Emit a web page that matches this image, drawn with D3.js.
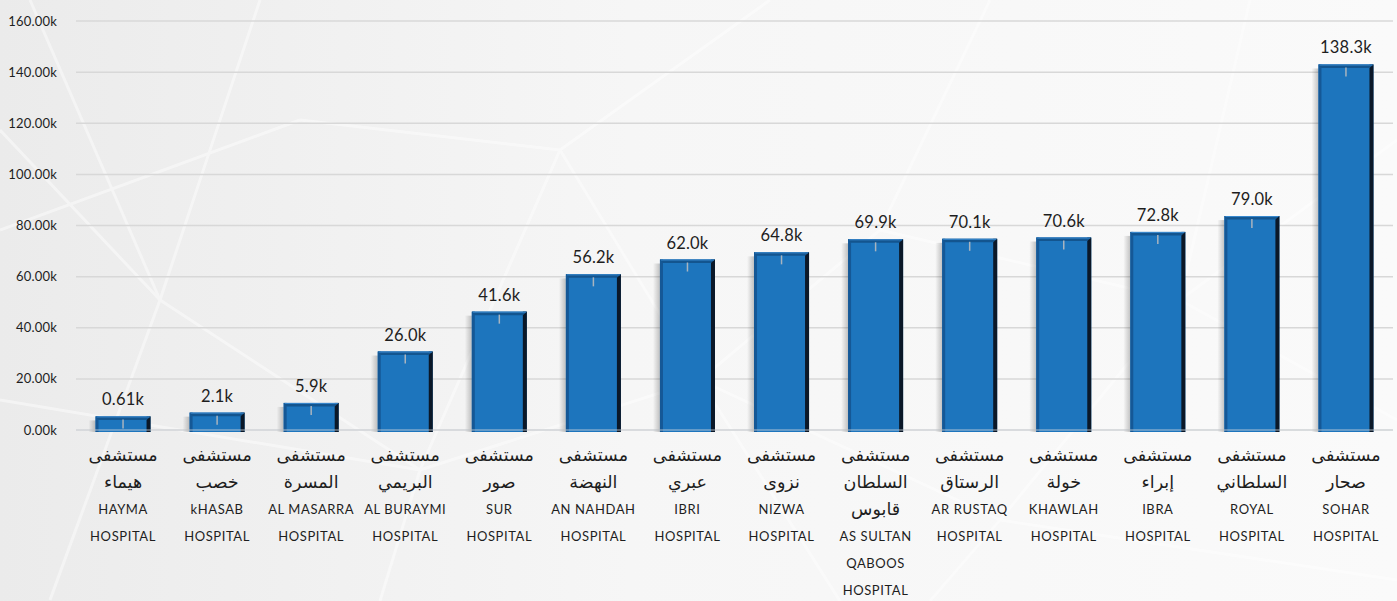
<!DOCTYPE html>
<html>
<head>
<meta charset="utf-8">
<script src="https://cdn.jsdelivr.net/npm/d3@7"></script>
<style>
  html, body { margin: 0; padding: 0; background: #f4f4f4; }
  svg { display: block; }
  text { font-family: Lato, "DejaVu Sans", sans-serif; fill: #1e1e1e; }
</style>
</head>
<body>
<svg id="chart" width="1397" height="601"></svg>
<script>
// ---- data ----
const categories = [
  "HAYMA HOSPITAL", "kHASAB HOSPITAL", "AL MASARRA HOSPITAL", "AL BURAYMI HOSPITAL",
  "SUR HOSPITAL", "AN NAHDAH HOSPITAL", "IBRI HOSPITAL", "NIZWA HOSPITAL",
  "AS SULTAN QABOOS HOSPITAL", "AR RUSTAQ HOSPITAL", "KHAWLAH HOSPITAL",
  "IBRA HOSPITAL", "ROYAL HOSPITAL", "SOHAR HOSPITAL"
];
const labelLines = [
  ["مستشفى", "هيماء", "HAYMA", "HOSPITAL"],
  ["مستشفى", "خصب", "kHASAB", "HOSPITAL"],
  ["مستشفى", "المسرة", "AL MASARRA", "HOSPITAL"],
  ["مستشفى", "البريمي", "AL BURAYMI", "HOSPITAL"],
  ["مستشفى", "صور", "SUR", "HOSPITAL"],
  ["مستشفى", "النهضة", "AN NAHDAH", "HOSPITAL"],
  ["مستشفى", "عبري", "IBRI", "HOSPITAL"],
  ["مستشفى", "نزوى", "NIZWA", "HOSPITAL"],
  ["مستشفى", "السلطان", "قابوس", "AS SULTAN", "QABOOS", "HOSPITAL"],
  ["مستشفى", "الرستاق", "AR RUSTAQ", "HOSPITAL"],
  ["مستشفى", "خولة", "KHAWLAH", "HOSPITAL"],
  ["مستشفى", "إبراء", "IBRA", "HOSPITAL"],
  ["مستشفى", "السلطاني", "ROYAL", "HOSPITAL"],
  ["مستشفى", "صحار", "SOHAR", "HOSPITAL"]
];
const values = [0.61, 2.1, 5.9, 26.0, 41.6, 56.2, 62.0, 64.8, 69.9, 70.1, 70.6, 72.8, 79.0, 138.3]; // thousands
const valueLabels = ["0.61k", "2.1k", "5.9k", "26.0k", "41.6k", "56.2k", "62.0k", "64.8k", "69.9k", "70.1k", "70.6k", "72.8k", "79.0k", "138.3k"];
const yTicks = [0, 20, 40, 60, 80, 100, 120, 140, 160];
const yTickLabels = ["0.00k", "20.00k", "40.00k", "60.00k", "80.00k", "100.00k", "120.00k", "140.00k", "160.00k"];

// ---- layout ----
const W = 1397, H = 601;
const plot = { left: 76, right: 1393, top: 21, bottom: 430 };
const svg = d3.select("#chart");
const defs = svg.append("defs");

// background
const bg = defs.append("linearGradient").attr("id", "bg").attr("x1", 0).attr("x2", 1).attr("y1", 0).attr("y2", 0);
bg.append("stop").attr("offset", 0).attr("stop-color", "#ebebeb");
bg.append("stop").attr("offset", 0.45).attr("stop-color", "#f6f6f6");
bg.append("stop").attr("offset", 1).attr("stop-color", "#fafafa");
svg.append("rect").attr("width", W).attr("height", H).attr("fill", "url(#bg)");

// faint network decoration
const deco = svg.append("g").attr("stroke", "#ffffff").attr("stroke-width", 3).attr("opacity", 0.45).attr("fill", "none");
const decoLines = [
  [[0,130],[160,300]], [[160,300],[50,600]], [[160,300],[420,470]], [[0,400],[420,470]],
  [[30,0],[160,300]], [[160,300],[260,0]], [[420,470],[380,601]], [[420,470],[700,380]],
  [[700,380],[840,601]], [[700,380],[560,150]], [[560,150],[420,470]], [[560,150],[770,0]],
  [[700,380],[1000,520]], [[1000,520],[930,601]], [[1000,520],[1180,300]], [[1180,300],[880,230]],
  [[880,230],[700,380]], [[880,230],[990,0]], [[1180,300],[1397,420]], [[1180,300],[1250,0]],
  [[1000,520],[1397,580]], [[0,230],[300,120]], [[300,120],[560,150]], [[1397,140],[1180,300]]
];
decoLines.forEach(l => deco.append("line").attr("x1", l[0][0]).attr("y1", l[0][1]).attr("x2", l[1][0]).attr("y2", l[1][1]));

// scales
const x = d3.scaleBand().domain(categories).range([plot.left, plot.right]).paddingInner(0.415).paddingOuter(0.2075);
const y = d3.scaleLinear().domain([0, 160]).range([plot.bottom, plot.top]);

// gridlines
svg.append("g").selectAll("line").data(yTicks).join("line")
  .attr("x1", plot.left).attr("x2", plot.right)
  .attr("y1", d => y(d)).attr("y2", d => y(d))
  .attr("stroke", "#d8d8d8").attr("stroke-width", 1.5);

// y axis labels
svg.append("g").selectAll("text").data(yTicks).join("text")
  .attr("x", 57).attr("y", d => y(d)).attr("dy", "0.35em")
  .attr("text-anchor", "end").attr("font-size", 13).attr("letter-spacing", 0.2)
  .text((d, i) => yTickLabels[i]);

// bar shadow
const sh = defs.append("linearGradient").attr("id", "shadow").attr("x1", 0).attr("x2", 1);
sh.append("stop").attr("offset", 0).attr("stop-color", "#000").attr("stop-opacity", 0);
sh.append("stop").attr("offset", 1).attr("stop-color", "#000").attr("stop-opacity", 0.22);

const bevel = 12; // 3D top adds height in px
const bw = x.bandwidth();
const bars = svg.append("g").selectAll("g").data(values).join("g")
  .attr("transform", (d, i) => `translate(${x(categories[i])},0)`);

bars.append("rect")
  .attr("x", -7).attr("width", 7)
  .attr("y", d => y(d) - bevel + 4)
  .attr("height", d => plot.bottom + 2 - (y(d) - bevel + 4))
  .attr("fill", "url(#shadow)");
bars.append("rect")
  .attr("x", 0).attr("width", bw)
  .attr("y", d => y(d) - bevel)
  .attr("height", d => plot.bottom + 2 - (y(d) - bevel))
  .attr("fill", "#1d75bd");
bars.append("rect")
  .attr("x", 0).attr("width", 3)
  .attr("y", d => y(d) - bevel)
  .attr("height", d => plot.bottom + 2 - (y(d) - bevel))
  .attr("fill", "#155896");
bars.append("rect")
  .attr("x", bw - 4).attr("width", 4)
  .attr("y", d => y(d) - bevel)
  .attr("height", d => plot.bottom + 2 - (y(d) - bevel))
  .attr("fill", "#0b1828");
bars.append("path")
  .attr("d", d => {
    const t = y(d) - bevel;
    return `M0,${t} L${bw},${t} L${bw - 4},${t + 3.5} L3,${t + 3.5} Z`;
  })
  .attr("fill", "#13558f");
bars.append("line")
  .attr("x1", 1).attr("x2", bw - 1)
  .attr("y1", d => y(d) - bevel + 0.5).attr("y2", d => y(d) - bevel + 0.5)
  .attr("stroke", "#3a8ad0").attr("stroke-width", 1);
bars.append("line")
  .attr("x1", bw / 2).attr("x2", bw / 2)
  .attr("y1", d => y(d) - bevel + 3).attr("y2", d => y(d))
  .attr("stroke", "#a9b4bf").attr("stroke-width", 1.5);

// zero line over bars
svg.append("line").attr("x1", plot.left).attr("x2", plot.right)
  .attr("y1", y(0)).attr("y2", y(0)).attr("stroke", "#d0d6dc").attr("stroke-width", 1.2).attr("opacity", 0.8);

// value labels
svg.append("g").selectAll("text").data(values).join("text")
  .attr("x", (d, i) => x(categories[i]) + bw / 2)
  .attr("y", d => y(d) - bevel - 11)
  .attr("text-anchor", "middle").attr("font-size", 16.5).attr("letter-spacing", 0.2)
  .text((d, i) => valueLabels[i]);

// category labels
const cat = svg.append("g").selectAll("g").data(labelLines).join("g")
  .attr("transform", (d, i) => `translate(${x(categories[i]) + bw / 2},0)`);
cat.selectAll("text").data(d => d).join("text")
  .attr("x", 0)
  .attr("y", (d, j) => 455 + j * 27)
  .attr("dy", "0.35em")
  .attr("text-anchor", "middle")
  .attr("font-family", d => /[\u0600-\u06FF]/.test(d) ? "'DejaVu Sans', sans-serif" : "Lato, sans-serif")
  .attr("font-size", d => /[\u0600-\u06FF]/.test(d) ? 17.5 : 13)
  .attr("letter-spacing", d => /[\u0600-\u06FF]/.test(d) ? 0 : 0.6)
  .text(d => d);
</script>
</body>
</html>
